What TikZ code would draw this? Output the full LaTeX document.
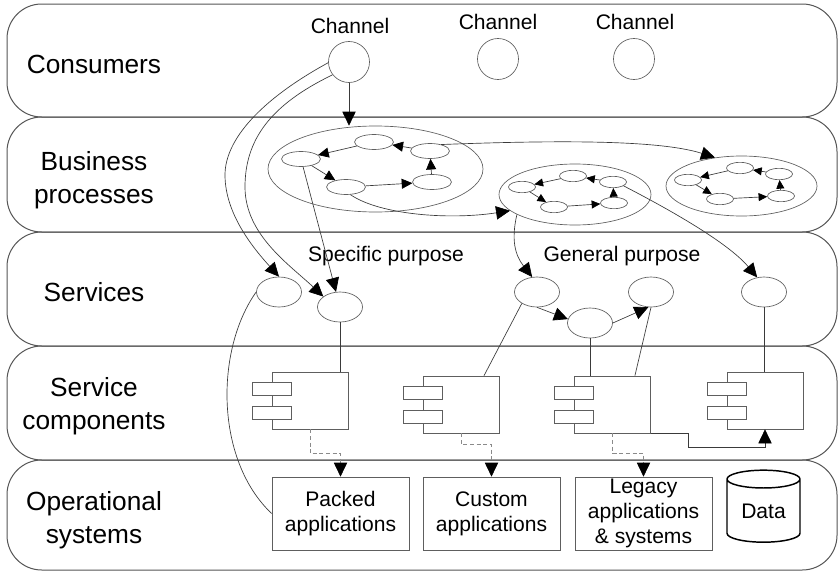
\documentclass[tikz,border=0pt]{standalone}
\usepackage{fontspec}
\setmainfont{Liberation Sans}
\usetikzlibrary{shapes.geometric, arrows.meta, calc}
\definecolor{lanecol}{HTML}{555555}
\definecolor{shapecol}{HTML}{5E5E5E}
\definecolor{linecol}{HTML}{3A3A3A}
\definecolor{dashcol}{HTML}{8A8A8A}
\begin{document}
\begin{tikzpicture}[x=0.75pt, y=-0.75pt,
  lane/.style={draw=lanecol, line width=0.75pt, rounded corners=26pt, minimum width=622.5pt, inner sep=0},
  lanelabel/.style={font=\fontsize{19.7}{25}\selectfont, align=center, inner sep=0},
  small/.style={font=\fontsize{15.8}{18.6}\selectfont, inner sep=0, align=center},
  chan/.style={circle, draw=shapecol, line width=0.5pt, minimum size=30.75pt, inner sep=0},
  bigell/.style={ellipse, draw=shapecol, line width=0.5pt, inner sep=0},
  inA/.style={ellipse, draw=shapecol, line width=0.5pt, inner sep=0, minimum width=29.25pt, minimum height=11.25pt},
  inB/.style={ellipse, draw=shapecol, line width=0.5pt, inner sep=0, minimum width=20.25pt, minimum height=8.5pt},
  svc/.style={ellipse, draw=shapecol, line width=0.5pt, inner sep=0, minimum width=33.75pt, minimum height=22.5pt},
  comp/.style={rectangle, draw=shapecol, line width=0.5pt, inner sep=0, minimum width=57pt, minimum height=42.75pt},
  port/.style={rectangle, draw=shapecol, line width=0.5pt, fill=white, inner sep=0, minimum width=29.25pt, minimum height=9.75pt},
  opbox/.style={rectangle, draw=shapecol, line width=0.5pt, inner sep=0, minimum width=102.75pt, minimum height=54.75pt, font=\fontsize{15.8}{18.6}\selectfont, align=center},
  conn/.style={draw=linecol, line width=0.5pt},
  bigarrow/.style={conn, -{Triangle[length=10.5pt, width=10pt, color=black]}},
  midarrow/.style={conn, -{Triangle[length=8pt, width=7.5pt, color=black]}},
  smallarrow/.style={conn, -{Triangle[length=6.5pt, width=6pt, color=black]}},
  dasharrow/.style={draw=dashcol, line width=0.5pt, dash pattern=on 3pt off 2pt, -{Triangle[length=10.5pt, width=10pt, color=black]}}
]
\useasboundingbox (0,0) rectangle (839,571);

% lanes
\node[lane, minimum height=84.75pt] (L1) at (422,60.5) {};
\node[lane, minimum height=86.25pt] (L2) at (422,174.5) {};
\node[lane, minimum height=85.5pt] (L3) at (422,289) {};
\node[lane, minimum height=85.5pt] (L4) at (422,403) {};
\node[lane, minimum height=82.5pt] (L5) at (422,515) {};

\node[lanelabel] (t1) at (94,64) {Consumers};
\node[lanelabel] (t2) at (94,180) {Business\\processes};
\node[lanelabel] (t3) at (94,292) {Services};
\node[lanelabel] (t4) at (94,406) {Service\\components};
\node[lanelabel] (t5) at (94,520) {Operational\\systems};

% channels
\node[chan] (ch1) at (349,62) {};
\node[chan] (ch2) at (498,59) {};
\node[chan] (ch3) at (634,59) {};
\node[small] (cl1) at (350,26) {Channel};
\node[small] (cl2) at (498,22) {Channel};
\node[small] (cl3) at (635,22) {Channel};

% business processes
\node[bigell, minimum width=161.25pt, minimum height=64.5pt] (bp1) at (375.5,169) {};
\node[bigell, minimum width=114pt, minimum height=45.75pt] (bp2) at (575,194.5) {};
\node[bigell, minimum width=113.25pt, minimum height=45pt] (bp3) at (741.5,186) {};

\node[inA] (a1) at (301,159) {};
\node[inA] (b1) at (374,142) {};
\node[inA] (c1) at (430,151) {};
\node[inA] (d1) at (432,182) {};
\node[inA] (e1) at (346,187) {};

\node[inB] (a2) at (522,187) {};
\node[inB] (b2) at (573,176) {};
\node[inB] (c2) at (613,182) {};
\node[inB] (d2) at (614,203) {};
\node[inB] (e2) at (554,207) {};

\node[inB] (a3) at (688,180) {};
\node[inB] (b3) at (740,168) {};
\node[inB] (c3) at (779,174) {};
\node[inB] (d3) at (781,196) {};
\node[inB] (e3) at (720,199) {};

\draw[midarrow] (c1) -- (b1);
\draw[midarrow] (b1) -- (a1);
\draw[midarrow] (a1) -- (e1);
\draw[midarrow] (e1) -- (d1);
\draw[midarrow] (d1) -- (c1);

\draw[smallarrow] (c2) -- (b2);
\draw[smallarrow] (b2) -- (a2);
\draw[smallarrow] (a2) -- (e2);
\draw[smallarrow] (e2) -- (d2);
\draw[smallarrow] (d2) -- (c2);

\draw[smallarrow] (c3) -- (b3);
\draw[smallarrow] (b3) -- (a3);
\draw[smallarrow] (a3) -- (e3);
\draw[smallarrow] (e3) -- (d3);
\draw[smallarrow] (d3) -- (c3);

% services
\node[small] (sp) at (386,256) {Specific purpose};
\node[small] (gp) at (622,256) {General purpose};
\node[svc] (s1) at (279,292) {};
\node[svc] (s2) at (340,307) {};
\node[svc] (g1) at (537,292) {};
\node[svc] (g2) at (590,323) {};
\node[svc] (g3) at (651,292) {};
\node[svc] (g4) at (764,292) {};

% components
\node[comp] (comp1) at (310,400.5) {};
\node[comp] (comp2) at (461,404.5) {};
\node[comp] (comp3) at (612.5,404.5) {};
\node[comp] (comp4) at (765,400.5) {};
\foreach \c in {comp1,comp2,comp3,comp4}{
  \node[port] (\c p1) at ($(\c.west)+(0,-12)$) {};
  \node[port] (\c p2) at ($(\c.west)+(0,12.5)$) {};
}

% operational systems
\node[opbox] (packed) at (340.5,513.5) {Packed\\applications};
\node[opbox] (custom) at (491.5,513.5) {Custom\\applications};
\node[opbox] (legacy) at (643.5,513.5) {Legacy\\applications\\\& systems};
\node[cylinder, shape border rotate=90, aspect=0.4, draw=black, line width=1.1pt, inner sep=0,
      minimum width=54.75pt, minimum height=54pt, font=\fontsize{15.8}{18.6}\selectfont] (data) at (763.5,511) {Data};

% connectors
\draw[bigarrow] (ch1.south) -- (ch1.south |- bp1.north);
\draw[bigarrow] (ch1.182) .. controls (260,100) and (225,140) .. (225,175)
                .. controls (225,215) and (255,250) .. (s1.north);
\draw[bigarrow] (ch1.218) .. controls (270,105) and (245,140) .. (245,187)
                .. controls (245,235) and (290,265) .. (s2.148);
\draw[bigarrow] (a1) -- (s2);
\draw[bigarrow] (e1.-60) .. controls (380,215) and (450,220) .. (bp2.194);
\draw[bigarrow] (c1.30) .. controls (560,140) and (660,140) .. (bp3.133);
\draw[bigarrow] (bp2.199) .. controls (511,240) and (515,255) .. (g1.108);
\draw[bigarrow] (c2.-20) .. controls (680,215) and (730,245) .. (g4.115);
\draw[bigarrow] (g1.south) -- (g2.170);
\draw[bigarrow] (g2.east) -- (g3.-100);

\draw[conn] (s2.south) -- (s2.south |- comp1.north);
\draw[conn] (g1.217) -- ($(comp2.north east)!0.4!(comp2.north)$);
\draw[conn] (g2.south) -- (g2.south |- comp3.north);
\draw[conn] (g3.south) -- ($(comp3.north east)!0.415!(comp3.north)$);
\draw[conn] (g4.south) -- (g4.south |- comp4.north);
\draw[bigarrow] (comp3.south east) -- ++(37,0) -- ++(0,14) -| (comp4.south);

\draw[dasharrow] (comp1.south) -- ++(0,24) -| (packed.north);
\draw[dasharrow] (comp2.south) -- ++(0,11) -| (custom.north);
\draw[dasharrow] (comp3.south) -- ++(0,20) -| (legacy.north);

\draw[conn] (s1.west) .. controls (215,350) and (215,460) .. (packed.west);
\end{tikzpicture}
\end{document}
